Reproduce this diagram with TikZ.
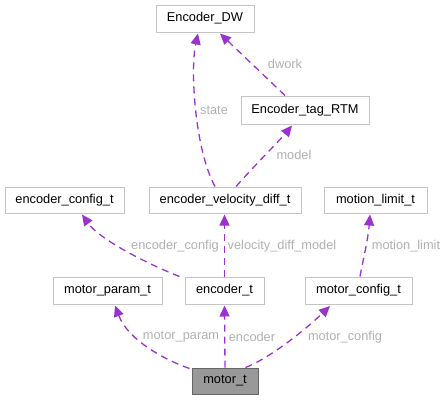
\documentclass[tikz,border=0pt]{standalone}
\usepackage{fontspec}
\setmainfont{Liberation Sans}
\usetikzlibrary{arrows.meta,calc}
\definecolor{edgecol}{HTML}{9A32CD}
\definecolor{boxcol}{HTML}{C4C4C4}
\definecolor{labcol}{HTML}{B0B0B0}
\begin{document}
\begin{tikzpicture}[x=1pt,y=-1pt,
  every node/.style={font=\fontsize{12.8}{15}\selectfont, inner sep=0pt},
  cls/.style={draw=boxcol, line width=1pt, fill=white, minimum height=#1, anchor=center},
  cls/.default=27pt,
  edge/.style={draw=edgecol, line width=1.3pt, dash pattern=on 7pt off 5pt,
    -{Triangle[length=11pt,width=10pt,fill=edgecol]}},
  lab/.style={text=labcol}]
\useasboundingbox (0,0) rectangle (447,400);
% class nodes
\node[cls, minimum width=98pt] (dw) at (205,18.5) {Encoder\_DW};
\node[cls=28pt, minimum width=128pt] (rtm) at (305,110) {Encoder\_tag\_RTM};
\node[cls=26pt, minimum width=119pt] (ecfg) at (64.5,200) {encoder\_config\_t};
\node[cls=26pt, minimum width=152pt] (evd) at (225,200) {encoder\_velocity\_diff\_t};
\node[cls=26pt, minimum width=103pt] (ml) at (375.5,200) {motion\_limit\_t};
\node[cls, minimum width=109pt] (mpar) at (107.5,290.5) {motor\_param\_t};
\node[cls, minimum width=79pt] (enc) at (224.5,290.5) {encoder\_t};
\node[cls, minimum width=107pt] (mcfg) at (358.5,290.5) {motor\_config\_t};
\node[cls=26pt, minimum width=66pt, fill=black!40, draw=black!60] (mt) at (225,381) {motor\_t};
% connectors
\draw[edge] ($(mt.north west)+(-2,1)$) .. controls (165,360) and (128,340) .. ($(mpar.south)+(7.5,1)$);
\draw[edge] (mt.north) -- ($(enc.south)+(0,1)$);
\draw[edge] ($(mt.north east)+(-13,0)$) .. controls (270,358) and (305,330) .. ($(mcfg.south)+(-28.5,1.5)$);
\draw[edge] ($(enc.north west)+(-5,0)$) .. controls (150,265) and (100,240) .. ($(ecfg.south)+(17.5,1)$);
\draw[edge] (enc.north) -- ($(evd.south)+(-0.5,1)$);
\draw[edge] ($(mcfg.north)+(1.5,0)$) .. controls (363,260) and (368,240) .. ($(ml.south)+(-5.5,1)$);
\draw[edge] ($(evd.north)+(-10,0)$) .. controls (195,150) and (190,70) .. ($(dw.south)+(-7,1)$);
\draw[edge] ($(evd.north)+(11,0)$) .. controls (255,165) and (280,140) .. ($(rtm.south)+(-13,1)$);
\draw[edge] ($(rtm.north)+(-20,0)$) -- ($(dw.south)+(15,1)$);
% labels
\node[lab] at (181,337) {motor\_param};
\node[lab] at (252,337) {encoder};
\node[lab] at (345,337) {motor\_config};
\node[lab] at (175,246) {encoder\_config};
\node[lab] at (282,246) {velocity\_diff\_model};
\node[lab] at (406,246) {motion\_limit};
\node[lab] at (214,110) {state};
\node[lab] at (294,155) {model};
\node[lab] at (285,64) {dwork};
\end{tikzpicture}
\end{document}
